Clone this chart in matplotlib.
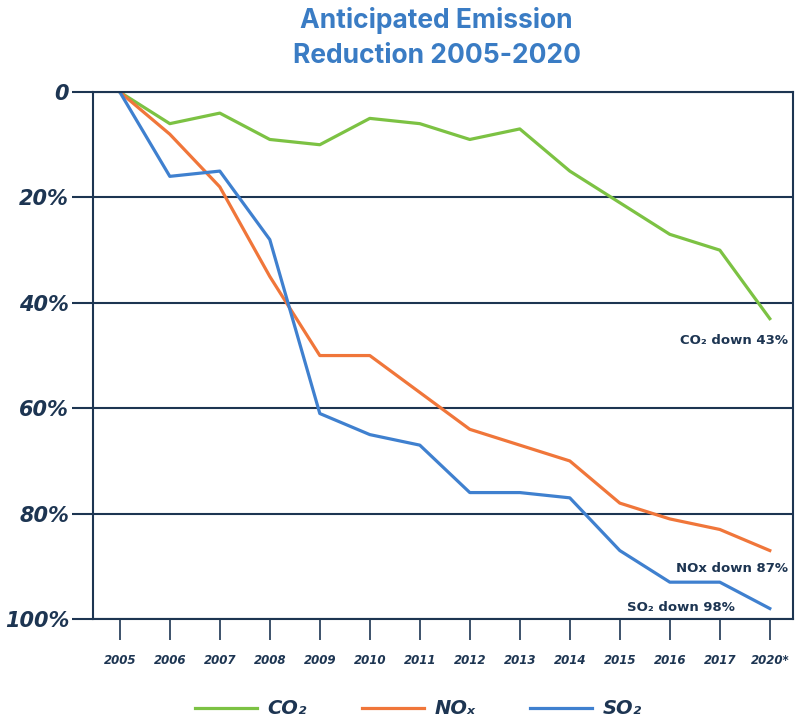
import matplotlib
matplotlib.use('Agg')
import matplotlib.pyplot as plt

years = ['2005', '2006', '2007', '2008', '2009', '2010', '2011', '2012',
         '2013', '2014', '2015', '2016', '2017', '2020*']
co2 = [0, 6, 4, 9, 10, 5, 6, 9, 7, 15, 21, 27, 30, 43]
nox = [0, 8, 18, 35, 50, 50, 57, 64, 67, 70, 78, 81, 83, 87]
so2 = [0, 16, 15, 28, 61, 65, 67, 76, 76, 77, 87, 93, 93, 98]
y_ticks = [0, 20, 40, 60, 80, 100]
y_labels = ['0', '20%', '40%', '60%', '80%', '100%']

navy = '#1d3552'
green = '#7cc243'
orange = '#f0763a'
blue = '#3f80cf'

fig = plt.figure(figsize=(8, 7.19), dpi=100)
ax = fig.add_axes([0.116, 0.139, 0.875, 0.733])

x = list(range(len(years)))
l1, = ax.plot(x, co2, color=green, lw=2.3, label='CO₂')
l2, = ax.plot(x, nox, color=orange, lw=2.3, label='NOₓ')
l3, = ax.plot(x, so2, color=blue, lw=2.3, label='SO₂')

ax.set_xlim(-0.54, 13.46)
ax.set_ylim(100, 0)
ax.set_yticks(y_ticks)
ax.set_yticklabels(y_labels, fontsize=15, fontweight='bold', style='italic', color=navy)
ax.set_xticks(x)
ax.set_xticklabels(years, fontsize=8.5, fontweight='bold', style='italic', color=navy)
ax.tick_params(axis='y', length=15, width=1.5, color=navy, pad=2)
ax.tick_params(axis='x', length=15, width=1.2, color=navy, pad=10)
for s in ax.spines.values():
    s.set_color(navy)
    s.set_linewidth(1.5)
ax.grid(axis='y', color=navy, lw=1.5)
ax.set_axisbelow(True)

# end labels
ax.text(13.36, 47.2, 'CO₂ down 43%', ha='right', va='center', fontsize=9.5,
        fontweight='bold', color=navy)
ax.text(13.36, 90.4, 'NOx down 87%', ha='right', va='center', fontsize=9.5,
        fontweight='bold', color=navy)
ax.text(12.3, 97.8, 'SO₂ down 98%', ha='right', va='center', fontsize=9.5,
        fontweight='bold', color=navy)

fig.text(0.546, 0.99, 'Anticipated Emission\nReduction 2005-2020', ha='center', va='top',
         fontsize=19, fontweight='bold', color='#3a7cc4', family='Inter', linespacing=1.45)

fig.legend(handles=[l1, l2, l3], loc='center', bbox_to_anchor=(0.523, 0.014),
           ncol=3, frameon=False, handlelength=3.2, handletextpad=0.55, columnspacing=2.8,
           prop={'size': 14, 'weight': 'bold', 'style': 'italic'}, labelcolor=navy)

fig.savefig('out.png', dpi=100)
